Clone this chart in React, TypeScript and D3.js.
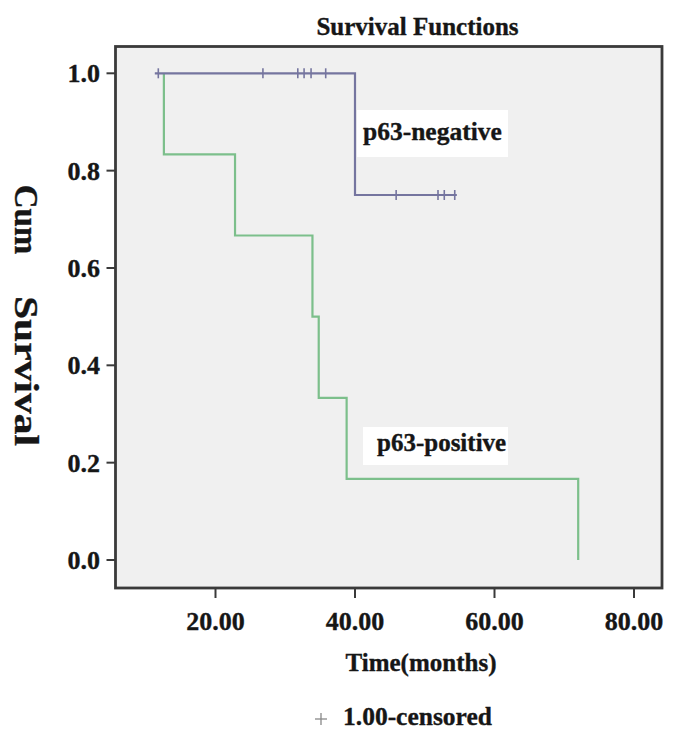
import React from "react";
import * as d3 from "d3";

const yTicks = [0, 0.2, 0.4, 0.6, 0.8, 1.0];
const xTicks = [20, 40, 60, 80];

// p63-negative: survival steps [time, survival]
const negStart = 11.3;
const negSteps: [number, number][] = [
  [40, 0.75],
];
const negEnd = 54.6;
const negCensored: [number, number][] = [
  [11.8, 1.0], [26.8, 1.0], [31.8, 1.0], [32.7, 1.0], [33.7, 1.0], [35.8, 1.0],
  [45.9, 0.75], [51.9, 0.75], [52.8, 0.75], [54.3, 0.75],
];

// p63-positive
const posStart = 12.6;
const posSteps: [number, number][] = [
  [12.6, 0.8333],
  [22.8, 0.6667],
  [33.9, 0.5],
  [34.8, 0.3333],
  [38.8, 0.1667],
  [72.0, 0.0],
];
const posEnd = 72.0;

const W = 685;
const H = 744;
const FONT = "'Liberation Serif', 'Times New Roman', serif";
const INK = "#161616";

const frame = { left: 115.5, right: 662, top: 46.5, bottom: 588 };
const x = d3.scaleLinear().domain([0, 80]).range([76, 634]);
const y = d3.scaleLinear().domain([0, 1]).range([560, 73.3]);

function stepPath(start: number, steps: [number, number][], end: number) {
  const pts: [number, number][] = [[start, 1]];
  let cur = 1;
  for (const [t, s] of steps) {
    pts.push([t, cur]);
    pts.push([t, s]);
    cur = s;
  }
  if (end > pts[pts.length - 1][0]) pts.push([end, cur]);
  const line = d3.line<[number, number]>().x((d) => x(d[0])).y((d) => y(d[1]));
  return line(pts) || "";
}

const txt = { fontFamily: FONT, fontWeight: "bold" as const, fill: INK, stroke: INK, strokeWidth: 0.35 };

export default function App() {
  const blue = "#75759f";
  const green = "#7cbf8b";
  return (
    <svg width={W} height={H} style={{ display: "block", position: "absolute", left: 0, top: 0 }}>
      <rect x={0} y={0} width={W} height={H} fill="#ffffff" />
      <text x={417.5} y={35} textAnchor="middle" fontSize={25} {...txt}>
        Survival Functions
      </text>
      <rect
        x={frame.left}
        y={frame.top}
        width={frame.right - frame.left}
        height={frame.bottom - frame.top}
        fill="#f0f0f0"
        stroke="#3a3a3a"
        strokeWidth={2.8}
      />
      {/* y axis */}
      {yTicks.map((t) => (
        <g key={"y" + t}>
          <line x1={frame.left - 9} x2={frame.left} y1={y(t)} y2={y(t)} stroke="#3a3a3a" strokeWidth={2} />
          <text x={100} y={y(t)} dy="0.35em" textAnchor="end" fontSize={26} {...txt}>
            {d3.format(".1f")(t)}
          </text>
        </g>
      ))}
      {/* x axis */}
      {xTicks.map((t) => (
        <g key={"x" + t}>
          <line x1={x(t)} x2={x(t)} y1={frame.bottom} y2={frame.bottom + 10} stroke="#3a3a3a" strokeWidth={2} />
          <text x={x(t)} y={630} textAnchor="middle" fontSize={26} {...txt}>
            {d3.format(".2f")(t)}
          </text>
        </g>
      ))}
      <text x={421} y={671} textAnchor="middle" fontSize={25} {...txt}>
        Time(months)
      </text>
      {/* y title */}
      <text transform="translate(15,219.5) rotate(90)" textAnchor="middle" fontSize={33} {...txt}>
        Cum
      </text>
      <text
        transform="translate(15,371) rotate(90)"
        textAnchor="middle"
        fontSize={33}
        {...txt}
        textLength={150}
        lengthAdjust="spacingAndGlyphs"
      >
        Survival
      </text>
      {/* curves */}
      <path d={stepPath(posStart, posSteps, posEnd)} fill="none" stroke={green} strokeWidth={2.2} />
      <path d={stepPath(negStart, negSteps, negEnd)} fill="none" stroke={blue} strokeWidth={2.2} />
      {negCensored.map(([t, s], i) => (
        <line key={"c" + i} x1={x(t)} x2={x(t)} y1={y(s) - 5} y2={y(s) + 5} stroke={blue} strokeWidth={1.6} />
      ))}
      {/* labels */}
      <rect x={357} y={110} width={151} height={47} fill="#ffffff" />
      <text x={363} y={140} fontSize={25.5} {...txt}>
        p63-negative
      </text>
      <rect x={363} y={427} width={145} height={38} fill="#ffffff" />
      <text x={377} y={451} fontSize={25} {...txt}>
        p63-positive
      </text>
      {/* legend */}
      <line x1={315} x2={327} y1={719} y2={719} stroke="#888" strokeWidth={1.3} />
      <line x1={321} x2={321} y1={713} y2={725} stroke="#888" strokeWidth={1.3} />
      <text x={343} y={725} fontSize={25.5} {...txt}>
        1.00-censored
      </text>
    </svg>
  );
}
